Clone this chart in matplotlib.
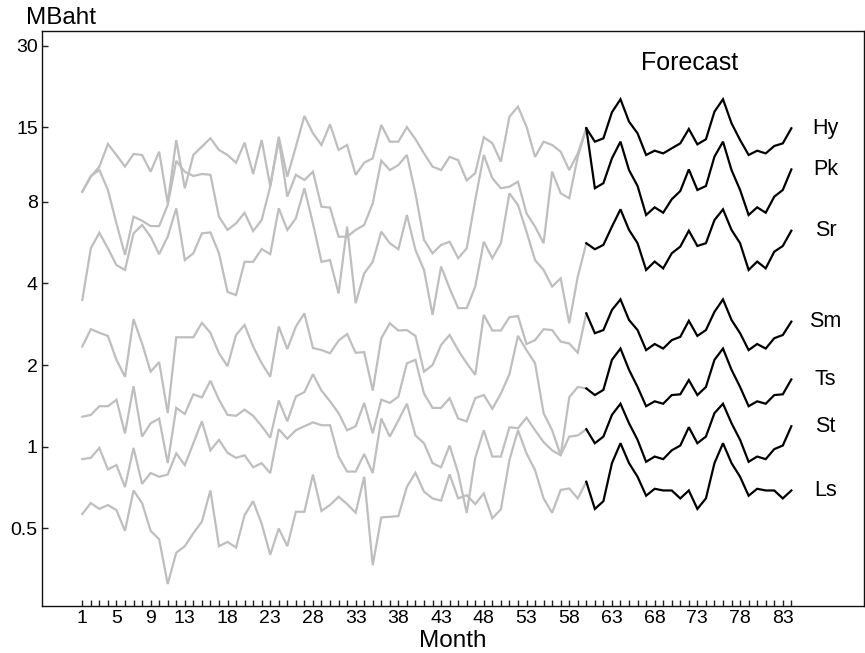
import numpy as np
import matplotlib
matplotlib.use("Agg")
import matplotlib.pyplot as plt

plt.rcParams['font.family'] = ['Liberation Sans', 'DejaVu Sans']

series_names = ["Hy", "Pk", "Sr", "Sm", "Ts", "St", "Ls"]
hist_months = list(range(1, 61))
fc_months = list(range(60, 85))

hy_hist = [8.70, 9.88, 10.76, 13.04, 11.88, 10.76, 11.98, 11.88, 10.31, 12.22, 7.89, 13.49, 8.96, 11.88, 12.75,
           13.69, 12.40, 11.88, 11.13, 13.19, 10.11, 13.49, 9.13, 13.87, 9.88, 12.75, 16.54, 14.28, 12.93, 15.41,
           12.40, 12.93, 10.04, 11.13, 11.55, 15.33, 13.30, 13.30, 15.04, 13.58, 12.04, 10.76, 10.45, 11.69, 11.37,
           9.57, 10.19, 13.81, 13.12, 11.22, 16.43, 17.91, 15.11, 11.69, 13.30, 12.93, 12.22, 10.45, 12.04, 14.9]
pk_hist = [8.70, 9.94, 10.46, 8.83, 6.65, 5.09, 7.04, 6.80, 6.50, 6.50, 7.77, 11.3, 10.31, 9.94, 10.11,
           10.04, 7.04, 6.29, 6.65, 7.28, 6.23, 6.84, 9.08, 13.49, 8.34, 10.04, 9.61, 10.31, 7.66, 7.60,
           5.94, 5.94, 6.29, 6.56, 7.89, 11.32, 10.45, 10.91, 11.88, 8.58, 5.78, 5.16, 5.54, 5.69, 4.95,
           5.38, 8.11, 11.88, 9.75, 8.96, 9.08, 9.47, 7.24, 6.47, 5.62, 10.31, 8.58, 8.23, 11.69, 14.9]
sr_hist = [3.47, 5.38, 6.14, 5.38, 4.67, 4.48, 6.11, 6.56, 5.94, 5.12, 5.94, 7.56, 4.87, 5.16, 6.11,
           6.16, 5.16, 3.72, 3.62, 4.80, 4.80, 5.35, 5.12, 7.56, 6.29, 6.94, 8.96, 6.65, 4.80, 4.87,
           3.67, 6.47, 3.38, 4.35, 4.80, 6.20, 5.62, 5.34, 7.14, 5.31, 4.48, 3.06, 4.61, 3.83, 3.24,
           3.24, 3.89, 5.69, 4.95, 5.62, 8.58, 7.77, 6.20, 4.87, 4.48, 3.89, 4.17, 2.85, 4.23, 5.62]
sm_hist = [2.34, 2.71, 2.63, 2.56, 2.09, 1.81, 2.95, 2.40, 1.89, 2.05, 1.33, 2.53, 2.53, 2.53, 2.86,
           2.63, 2.21, 1.98, 2.58, 2.81, 2.34, 2.03, 1.81, 2.77, 2.29, 2.77, 3.10, 2.31, 2.27, 2.21,
           2.46, 2.60, 2.22, 2.23, 1.61, 2.51, 2.85, 2.68, 2.69, 2.56, 1.89, 2.00, 2.37, 2.58, 2.27,
           2.03, 1.84, 3.06, 2.68, 2.68, 3.00, 3.03, 2.39, 2.47, 2.71, 2.69, 2.44, 2.40, 2.22, 3.10]
ts_hist = [1.29, 1.31, 1.41, 1.41, 1.49, 1.12, 1.67, 1.09, 1.22, 1.27, 0.87, 1.39, 1.32, 1.56, 1.52,
           1.75, 1.49, 1.31, 1.30, 1.37, 1.30, 1.19, 1.08, 1.48, 1.24, 1.53, 1.59, 1.85, 1.61, 1.47,
           1.33, 1.15, 1.19, 1.45, 1.12, 1.49, 1.45, 1.53, 2.03, 2.09, 1.57, 1.39, 1.39, 1.51, 1.27,
           1.24, 1.51, 1.55, 1.38, 1.57, 1.85, 2.56, 2.27, 2.03, 1.33, 1.15, 0.93, 1.52, 1.66, 1.64]
st_hist = [0.90, 0.91, 0.99, 0.825, 0.856, 0.71, 0.99, 0.73, 0.80, 0.775, 0.79, 0.945, 0.856, 1.03, 1.24,
           0.97, 1.06, 0.95, 0.91, 0.93, 0.84, 0.87, 0.80, 1.16, 1.07, 1.15, 1.19, 1.23, 1.20, 1.20,
           0.92, 0.81, 0.81, 0.94, 0.80, 1.27, 1.09, 1.25, 1.44, 1.10, 1.03, 0.87, 0.84, 1.01, 0.80,
           0.57, 0.91, 1.15, 0.92, 0.92, 1.18, 1.17, 1.28, 1.15, 1.04, 0.97, 0.93, 1.09, 1.10, 1.16]
ls_hist = [0.565, 0.62, 0.59, 0.61, 0.584, 0.49, 0.69, 0.62, 0.49, 0.456, 0.312, 0.407, 0.43, 0.48, 0.53,
           0.69, 0.43, 0.446, 0.425, 0.56, 0.63, 0.52, 0.40, 0.50, 0.43, 0.576, 0.576, 0.79, 0.58, 0.61,
           0.654, 0.615, 0.571, 0.775, 0.366, 0.549, 0.552, 0.555, 0.712, 0.802, 0.683, 0.645, 0.633, 0.791, 0.645,
           0.663, 0.615, 0.673, 0.545, 0.588, 0.893, 1.15, 0.945, 0.82, 0.645, 0.571, 0.693, 0.702, 0.645, 0.743]

hy_fc = [14.9, 13.3, 13.68, 17.07, 19.06, 15.76, 14.27, 11.88, 12.32, 12.04, 12.57, 13.11, 14.81, 13.0,
         13.57, 17.16, 19.06, 15.54, 13.49, 11.88, 12.32, 12.04, 12.82, 13.11, 14.9]
pk_fc = [14.9, 8.96, 9.35, 11.55, 13.3, 10.45, 9.13, 7.14, 7.62, 7.28, 8.16, 8.75, 10.51, 8.83,
         9.13, 11.71, 13.3, 10.45, 8.83, 7.14, 7.62, 7.28, 8.34, 8.83, 10.51]
sr_fc = [5.62, 5.34, 5.54, 6.47, 7.49, 6.29, 5.62, 4.48, 4.81, 4.54, 5.16, 5.46, 6.25, 5.49,
         5.62, 6.84, 7.49, 6.29, 5.62, 4.48, 4.81, 4.54, 5.23, 5.49, 6.25]
sm_fc = [3.10, 2.62, 2.69, 3.19, 3.49, 2.93, 2.69, 2.27, 2.39, 2.30, 2.47, 2.54, 2.91, 2.56,
         2.69, 3.14, 3.49, 2.93, 2.62, 2.27, 2.39, 2.30, 2.51, 2.58, 2.89]
ts_fc = [1.64, 1.55, 1.62, 2.09, 2.30, 1.92, 1.66, 1.41, 1.47, 1.44, 1.55, 1.56, 1.76, 1.55,
         1.66, 2.09, 2.30, 1.92, 1.66, 1.41, 1.47, 1.44, 1.55, 1.56, 1.77]
st_fc = [1.16, 1.03, 1.09, 1.31, 1.44, 1.22, 1.06, 0.88, 0.92, 0.90, 0.97, 1.01, 1.18, 1.03,
         1.09, 1.33, 1.44, 1.22, 1.06, 0.88, 0.92, 0.90, 0.98, 1.01, 1.19]
ls_fc = [0.743, 0.59, 0.63, 0.87, 1.03, 0.87, 0.775, 0.66, 0.70, 0.69, 0.69, 0.645, 0.69, 0.59,
         0.645, 0.87, 1.03, 0.87, 0.775, 0.66, 0.70, 0.69, 0.69, 0.645, 0.69]

y_ticks = [0.5, 1, 2, 4, 8, 15, 30]
y_ticklabels = ["0.5", "1", "2", "4", "8", "15", "30"]
x_ticks = [1, 5, 9, 13, 18, 23, 28, 33, 38, 43, 48, 53, 58, 63, 68, 73, 78, 83]

hists = [hy_hist, pk_hist, sr_hist, sm_hist, ts_hist, st_hist, ls_hist]
fcs = [hy_fc, pk_fc, sr_fc, sm_fc, ts_fc, st_fc, ls_fc]

fig = plt.figure(figsize=(8.65, 6.53), dpi=100)
ax = fig.add_axes([0.0486, 0.072, 0.9502, 0.8805])

for h in hists:
    ax.plot(hist_months, h, color="#BEBEBE", lw=1.6, solid_joinstyle="miter")
for f in fcs:
    ax.plot(fc_months, f, color="black", lw=1.6, solid_joinstyle="miter")

for name, f in zip(series_names, fcs):
    ax.text(88, f[-1], name, fontsize=15.5, ha="center", va="center")

ax.text(72.1, 25.9, "Forecast", fontsize=18, ha="center", va="center")

ax.set_yscale("log")
ax.set_ylim(0.259, 34.0)
ax.set_xlim(-3.71, 92.5)
ax.set_yticks(y_ticks)
ax.set_yticklabels(y_ticklabels)
ax.yaxis.set_minor_locator(matplotlib.ticker.NullLocator())
ax.set_xticks(x_ticks)
ax.set_xticks(list(range(1, 85)), minor=True)
ax.tick_params(axis="both", which="both", direction="in", length=4, width=1, labelsize=14, pad=3, color="#222222")
ax.tick_params(axis="x", which="minor", length=4)
for s in ax.spines.values():
    s.set_linewidth(1.0)
    s.set_color("#111111")

ax.set_xlabel("Month", fontsize=17.5, labelpad=2)
fig.text(0.030, 0.972, "MBaht", fontsize=17.5, ha="left", va="center")

fig.savefig("out.png", dpi=100)
